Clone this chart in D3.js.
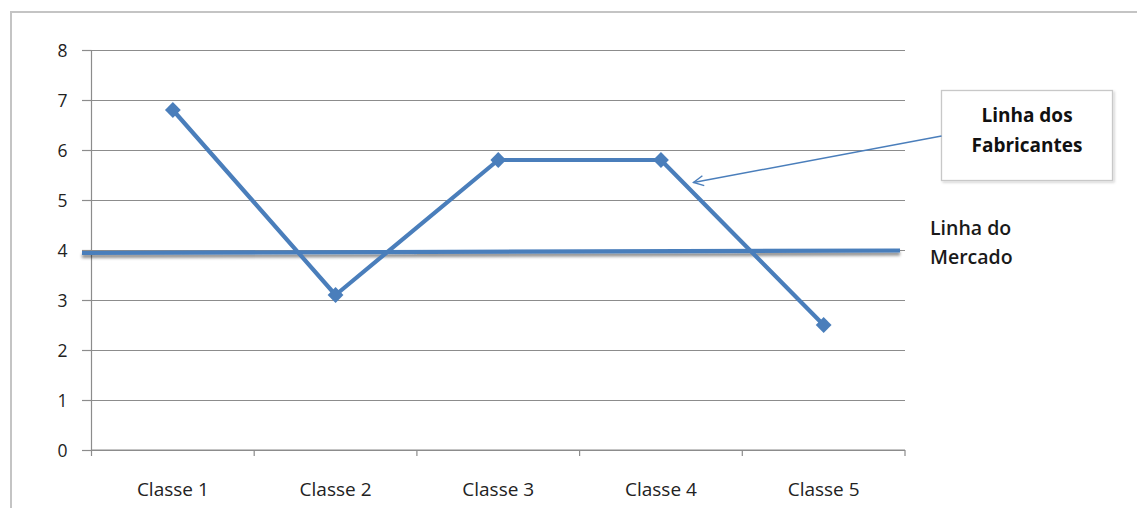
<!DOCTYPE html>
<html>
<head>
<meta charset="utf-8">
<script src="https://cdn.jsdelivr.net/npm/d3@7"></script>
<style>
  html, body { margin: 0; padding: 0; background: #fff; }
  svg { display: block; font-family: "Open Sans", "DejaVu Sans", sans-serif; }
</style>
</head>
<body>
<svg id="chart" width="1137" height="508"></svg>
<script>
// Categories and manufacturer scores
const categories = ["Classe 1", "Classe 2", "Classe 3", "Classe 4", "Classe 5"];
const fabricantes = [6.8, 3.1, 5.8, 5.8, 2.5];
// Market reference line (left end, right end)
const mercado = [3.94, 3.99];
const yTicks = [0, 1, 2, 3, 4, 5, 6, 7, 8];

const svg = d3.select("#chart");
const blue = "#4a7ebb";
const grid = "#8c8c8c";

const plot = { left: 91.5, right: 905, top: 50, bottom: 450 };

const x = d3.scaleBand().domain(categories).range([plot.left, plot.right]).paddingInner(0).paddingOuter(0);
const y = d3.scaleLinear().domain([0, 8]).range([plot.bottom, plot.top]);
const cx = c => x(c) + x.bandwidth() / 2;

const defs = svg.append("defs");
const sh = defs.append("filter").attr("id", "lineShadow")
  .attr("x", "-5%").attr("y", "-300%").attr("width", "110%").attr("height", "700%");
sh.append("feDropShadow").attr("dx", 0).attr("dy", 3).attr("stdDeviation", 1.8)
  .attr("flood-color", "#000").attr("flood-opacity", 0.45);
const bs = defs.append("filter").attr("id", "boxShadow")
  .attr("x", "-10%").attr("y", "-10%").attr("width", "120%").attr("height", "130%");
bs.append("feDropShadow").attr("dx", 1.5).attr("dy", 1.5).attr("stdDeviation", 1.2)
  .attr("flood-color", "#000").attr("flood-opacity", 0.18);
defs.append("marker").attr("id", "openArrow")
  .attr("viewBox", "0 0 12 12").attr("refX", 11).attr("refY", 6)
  .attr("markerWidth", 12).attr("markerHeight", 12).attr("markerUnits", "userSpaceOnUse")
  .attr("orient", "auto")
  .append("path").attr("d", "M1,1 L11,6 L1,11")
  .attr("fill", "none").attr("stroke", blue).attr("stroke-width", 1.4);

// Outer chart frame
svg.append("path").attr("d", "M11,508 L11,12 L1137,12")
  .attr("fill", "none").attr("stroke", "#c4c4c4").attr("stroke-width", 2);

// Horizontal gridlines + y axis
const yAxis = d3.axisLeft(y).tickValues(yTicks).tickSize(-(plot.right - plot.left)).tickFormat(d3.format("d"));
const gy = svg.append("g").attr("transform", `translate(${plot.left},0)`).call(yAxis);
gy.select(".domain").remove();
gy.selectAll(".tick line").attr("stroke", grid).attr("stroke-width", 1.2);
gy.selectAll(".tick").append("line").attr("x1", -9.5).attr("x2", 0).attr("stroke", grid).attr("stroke-width", 1.2);
gy.selectAll(".tick text").attr("x", -24).attr("dy", "0.36em")
  .attr("font-size", 17.5).attr("fill", "#222").attr("font-family", "Open Sans");
svg.append("line").attr("x1", plot.left).attr("x2", plot.left)
  .attr("y1", plot.top).attr("y2", plot.bottom).attr("stroke", grid).attr("stroke-width", 1.2);

// x axis with boundary ticks
const gx = svg.append("g").attr("transform", `translate(0,${plot.bottom})`);
gx.append("line").attr("x1", plot.left).attr("x2", plot.right).attr("stroke", grid).attr("stroke-width", 1.2);
const bounds = categories.map(c => x(c)).concat([plot.right]);
gx.selectAll("line.bt").data(bounds).join("line").attr("class", "bt")
  .attr("x1", d => d).attr("x2", d => d).attr("y1", 0).attr("y2", 6)
  .attr("stroke", grid).attr("stroke-width", 1.2);
gx.selectAll("text").data(categories).join("text")
  .attr("x", d => cx(d)).attr("y", 46).attr("text-anchor", "middle")
  .attr("font-size", 19).attr("fill", "#222").text(d => d);

// Market line
svg.append("line")
  .attr("x1", plot.left - 9.5).attr("x2", plot.right - 5)
  .attr("y1", y(mercado[0])).attr("y2", y(mercado[1]))
  .attr("stroke", blue).attr("stroke-width", 4.2).attr("filter", "url(#lineShadow)");

// Manufacturer line
const pts = categories.map((c, i) => [cx(c), y(fabricantes[i])]);
svg.append("path").attr("d", d3.line()(pts))
  .attr("fill", "none").attr("stroke", blue).attr("stroke-width", 4.2).attr("stroke-linejoin", "round");
svg.selectAll("path.mk").data(pts).join("path").attr("class", "mk")
  .attr("d", d3.symbol(d3.symbolSquare, 125)())
  .attr("transform", d => `translate(${d[0]},${d[1]}) rotate(45)`)
  .attr("fill", blue);

// Market label
const mLab = svg.append("text").attr("x", 930).attr("font-size", 19.5).attr("font-weight", 600).attr("fill", "#1a1a1a");
mLab.append("tspan").attr("x", 930).attr("y", 235).text("Linha do");
mLab.append("tspan").attr("x", 930).attr("y", 264).text("Mercado");

// Callout box for the manufacturer line
const box = { x: 941.5, y: 90.5, w: 171, h: 90 };
svg.append("rect").attr("x", box.x).attr("y", box.y).attr("width", box.w).attr("height", box.h)
  .attr("fill", "#fff").attr("stroke", "#c8c8c8").attr("stroke-width", 1.3).attr("filter", "url(#boxShadow)");
const fLab = svg.append("text").attr("text-anchor", "middle").attr("font-size", 19).attr("font-weight", 700).attr("fill", "#111");
fLab.append("tspan").attr("x", box.x + box.w / 2).attr("y", 122).text("Linha dos");
fLab.append("tspan").attr("x", box.x + box.w / 2).attr("y", 152).text("Fabricantes");

// Arrow from the callout to the descending segment after Classe 4
const tipX = cx(categories[3]) + x.bandwidth() * 0.2;
const tipY = y(5.35);
svg.append("line").attr("x1", box.x).attr("y1", 136).attr("x2", tipX).attr("y2", tipY)
  .attr("stroke", blue).attr("stroke-width", 1.5).attr("marker-end", "url(#openArrow)");
</script>
</body>
</html>
